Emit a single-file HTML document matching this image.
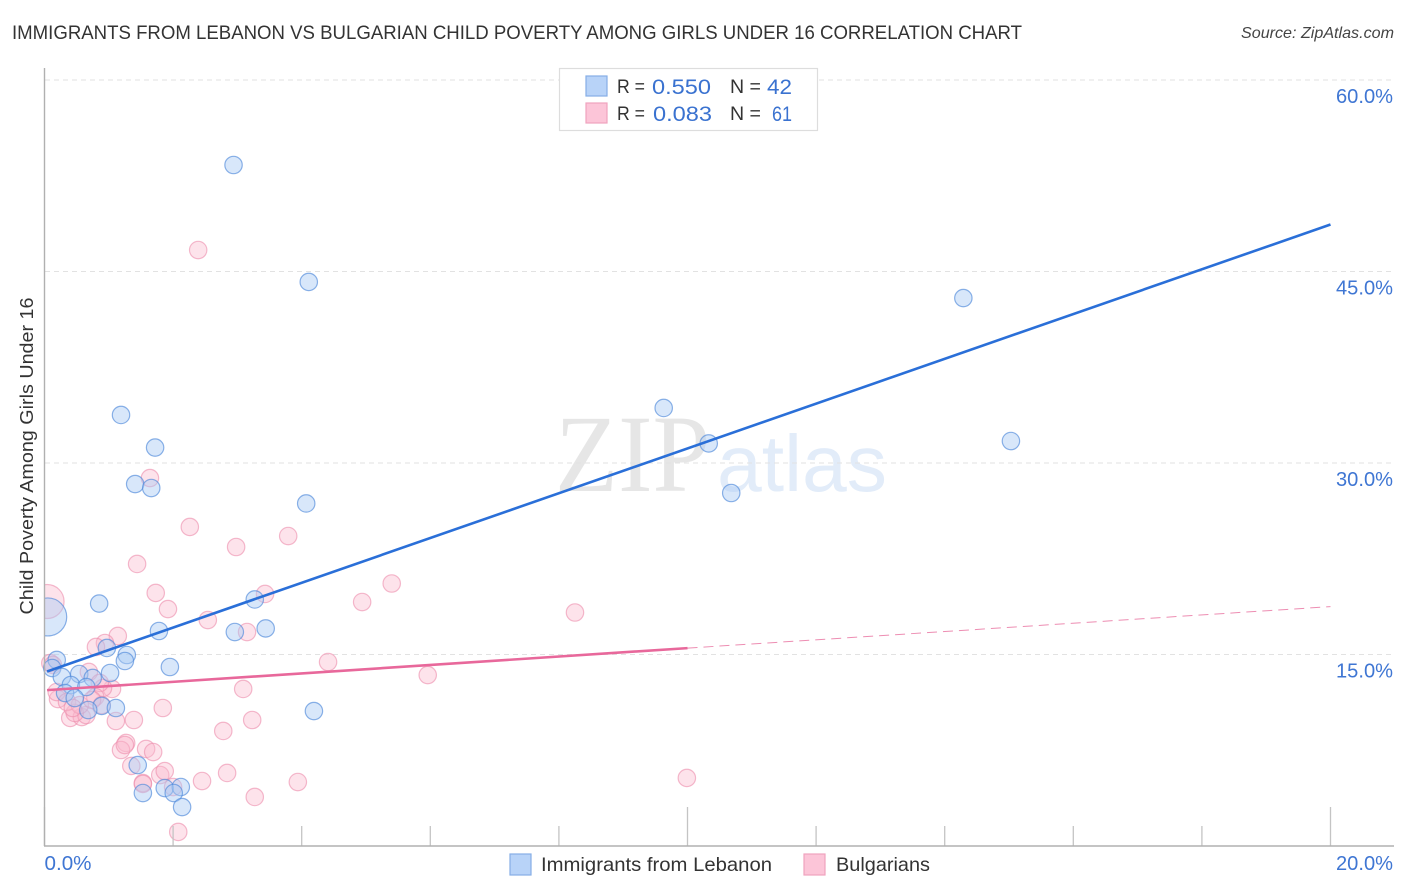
<!DOCTYPE html>
<html lang="en">
<head>
<meta charset="utf-8">
<title>Immigrants from Lebanon vs Bulgarian Child Poverty Correlation Chart</title>
<style>
html,body{margin:0;padding:0;background:#fff;}
svg{display:block;font-family:"Liberation Sans",sans-serif;}
</style>
</head>
<body>
<svg id="chart" width="1406" height="892" viewBox="0 0 1406 892" xmlns="http://www.w3.org/2000/svg">
  <text x="12" y="39" font-size="19" fill="#333" textLength="1010" lengthAdjust="spacingAndGlyphs">IMMIGRANTS FROM LEBANON VS BULGARIAN CHILD POVERTY AMONG GIRLS UNDER 16 CORRELATION CHART</text>
  <text x="1394" y="38" font-size="16" font-style="italic" fill="#444" text-anchor="end" textLength="153" lengthAdjust="spacingAndGlyphs">Source: ZipAtlas.com</text>
  <g id="watermark">
    <text x="555" y="491" font-family="'Liberation Serif',serif" font-size="110" fill="#e6e6e6" textLength="155" lengthAdjust="spacingAndGlyphs">ZIP</text>
    <text x="717" y="491" font-size="80" fill="#e2ecf9" textLength="170" lengthAdjust="spacingAndGlyphs">atlas</text>
  </g>
  <g id="grid"></g>
  <g id="points"></g>
  <rect x="0" y="570" width="44.5" height="80" fill="#fff"></rect>
  <g id="axes"></g>
  <g id="trends"></g>
  <g id="labels"></g>
  <text transform="translate(33,456) rotate(-90)" font-size="18.5" fill="#333" text-anchor="middle" textLength="317" lengthAdjust="spacingAndGlyphs">Child Poverty Among Girls Under 16</text>

  <g>
    <rect x="559.5" y="68.5" width="258" height="62" fill="#fff" stroke="#ddd" stroke-width="1.2"></rect>
    <rect x="586" y="76" width="21" height="20" fill="#b8d3f8" stroke="#86aee6" stroke-width="1.2"></rect>
    <rect x="586" y="103" width="21" height="20" fill="#fcc5d8" stroke="#f0a3bf" stroke-width="1.2"></rect>
    <g font-size="19" fill="#333">
      <text x="617" y="93" textLength="28" lengthAdjust="spacingAndGlyphs">R =</text>
      <text x="730" y="93" textLength="31" lengthAdjust="spacingAndGlyphs">N =</text>
      <text x="617" y="120" textLength="28" lengthAdjust="spacingAndGlyphs">R =</text>
      <text x="730" y="120" textLength="31" lengthAdjust="spacingAndGlyphs">N =</text>
    </g>
    <g font-size="21" fill="#3a72d0">
      <text x="652" y="94" textLength="59" lengthAdjust="spacingAndGlyphs">0.550</text>
      <text x="767" y="94" textLength="25" lengthAdjust="spacingAndGlyphs">42</text>
      <text x="653" y="121" textLength="59" lengthAdjust="spacingAndGlyphs">0.083</text>
      <text x="772" y="121" textLength="20" lengthAdjust="spacingAndGlyphs">61</text>
    </g>
  </g>

  <g>
    <rect x="510" y="854" width="21" height="21" fill="#b8d3f8" stroke="#86aee6" stroke-width="1.2"></rect>
    <text x="541" y="871" font-size="19.5" fill="#333" textLength="231" lengthAdjust="spacingAndGlyphs">Immigrants from Lebanon</text>
    <rect x="804" y="854" width="21" height="21" fill="#fcc5d8" stroke="#f0a3bf" stroke-width="1.2"></rect>
    <text x="836" y="871" font-size="19.5" fill="#333" textLength="94" lengthAdjust="spacingAndGlyphs">Bulgarians</text>
  </g>
</svg>
<script>
const yTicks = [15, 30, 45, 60];
const yTickLabels = ["15.0%", "30.0%", "45.0%", "60.0%"];
const xTicks = [0, 2, 4, 6, 8, 10, 12, 14, 16, 18, 20];
const xMajorTicks = [0, 10, 20];
const xEndTicks = [0, 20];
const xTickLabels = ["0.0%", "20.0%"];

const lebanonX = [2.94,4.11,14.29,9.63,1.19,1.72,10.33,15.03,1.41,1.66,10.68,4.07,0.85,3.27,0.05,1.78,2.96,3.44,0.97,1.28,1.25,1.95,0.19,0.12,0.27,0.54,1.02,0.75,0.41,0.65,0.32,0.47,0.89,1.11,0.68,4.19,1.45,1.53,1.87,2.12,2.01,2.14];
const lebanonY = [53.34,44.18,42.92,34.31,33.76,31.21,31.53,31.72,28.35,28.04,27.65,26.83,18.99,19.31,17.94,16.84,16.76,17.04,15.51,14.96,14.49,14.02,14.57,13.94,13.24,13.47,13.55,13.16,12.61,12.45,11.98,11.59,10.97,10.81,10.65,10.57,6.34,4.15,4.54,4.62,4.15,3.05];
const lebanonWeight = [1,1,1,1,1,1,1,1,1,1,1,1,1,1,4.77,1,1,1,1,1,1,1,1,1,1,1,1,1,1,1,1,1,1,1,1,1,1,1,1,1,1,1];

const bulgarianX = [1.44,1.73,1.92,3.43,2.54,3.15,1.14,0.94,0.80,4.41,0.09,0.13,0.69,3.09,1.05,0.91,1.84,1.39,1.11,3.23,2.78,0.40,0.58,0.65,0.47,0.21,0.19,0.35,0.86,0.79,0.55,0.89,1.27,1.19,1.25,1.58,1.69,1.35,1.80,1.87,1.53,1.53,2.45,2.84,3.94,3.27,2.00,2.08,2.39,1.64,2.26,3.79,2.98,5.40,4.94,8.25,5.96,9.99,0.04,0.44,0.74];
const bulgarianY = [22.09,19.82,18.56,19.74,17.70,16.76,16.45,15.90,15.59,14.41,14.33,14.18,13.63,12.30,12.30,12.38,10.81,9.87,9.79,9.87,9.01,10.03,10.10,10.26,10.42,11.51,12.06,11.28,12.77,11.67,11.04,11.04,8.07,7.52,7.91,7.60,7.36,6.27,5.56,5.87,4.93,4.86,5.09,5.72,5.01,3.84,4.62,1.10,46.68,28.82,24.99,24.28,23.42,20.56,19.11,18.29,13.39,5.33,19.15,10.81,11.44];
const bulgarianWeight = [1,1,1,1,1,1,1,1,1,1,1,1,1,1,1,1,1,1,1,1,1,1,1,1,1,1,1,1,1,1,1,1,1,1,1,1,1,1,1,1,1,1,1,1,1,1,1,1,1,1,1,1,1,1,1,1,1,1,3.82,1,1];

const lebanonTrendX = [0.04, 20];
const lebanonTrendY = [13.67, 48.68];
const bulgarianTrendX = [0.04, 10];
const bulgarianTrendY = [12.21, 15.5];
const bulgarianDashX = [10, 20];
const bulgarianDashY = [15.5, 18.75];

const SVGNS = "http://www.w3.org/2000/svg";
function xScale(v) { return 44.5 + v * 64.3; }
function yScale(v) { return 846 - v * 12.767; }
function radius(w) { return 8.7 * Math.sqrt(w); }
function make(parent, tag, attrs) {
  const el = document.createElementNS(SVGNS, tag);
  for (const k in attrs) el.setAttribute(k, attrs[k]);
  parent.appendChild(el);
  return el;
}

const grid = document.getElementById("grid");
const axes = document.getElementById("axes");
const labels = document.getElementById("labels");
const points = document.getElementById("points");
const trends = document.getElementById("trends");

yTicks.forEach(function (t, i) {
  const line = make(grid, "line", {x1: 45, x2: 1394, y1: yScale(t), y2: yScale(t), stroke: "#e2e2e2", "stroke-width": 1, "stroke-dasharray": "5 4"});
  
  
  const label = make(labels, "text", {x: 1393, y: yScale(t) + 23, "font-size": 20, fill: "#3f76d3", "text-anchor": "end", textLength: 57, lengthAdjust: "spacingAndGlyphs"});
  label.textContent = yTickLabels[i];
  
  
});

xTicks.forEach(function (t) {
  const major = xMajorTicks.indexOf(t) >= 0;
  const tick = make(axes, "line", {x1: xScale(t), x2: xScale(t), y1: major ? 807 : 826, y2: 846, stroke: "#c4c4c4", "stroke-width": 1.3});
  
  
});

const xAxis = make(axes, "line", {x1: 44, x2: 1394, y1: 846, y2: 846, stroke: "#b0b0b0", "stroke-width": 1.4});


const yAxis = make(axes, "line", {x1: 44.5, x2: 44.5, y1: 68, y2: 846, stroke: "#b0b0b0", "stroke-width": 1.4});



xEndTicks.forEach(function (t, i) {
  const anchor = i === 0 ? "start" : "end";
  const px = i === 0 ? xScale(t) : 1393;
  const width = i === 0 ? 47 : 57;
  const label = make(labels, "text", {x: px, y: 870, "font-size": 20, fill: "#3f76d3", "text-anchor": anchor, textLength: width, lengthAdjust: "spacingAndGlyphs"});
  label.textContent = xTickLabels[i];
  
  
});

bulgarianX.forEach(function (v, i) {
  const c = make(points, "circle", {cx: xScale(v), cy: yScale(bulgarianY[i]), r: radius(bulgarianWeight[i]), fill: "#fbb9ce", "fill-opacity": 0.4, stroke: "#ec8cab", "stroke-opacity": 0.6, "stroke-width": 1.2});
  
  
});
lebanonX.forEach(function (v, i) {
  const c = make(points, "circle", {cx: xScale(v), cy: yScale(lebanonY[i]), r: radius(lebanonWeight[i]), fill: "#a9caf5", "fill-opacity": 0.45, stroke: "#4f88da", "stroke-opacity": 0.65, "stroke-width": 1.2});
  
  
});

const bulgarianDash = make(trends, "line", {x1: xScale(bulgarianDashX[0]), y1: yScale(bulgarianDashY[0]), x2: xScale(bulgarianDashX[1]), y2: yScale(bulgarianDashY[1]), stroke: "#e8709f", "stroke-width": 1, "stroke-dasharray": "10 6", "stroke-opacity": 0.8});


const bulgarianTrend = make(trends, "line", {x1: xScale(bulgarianTrendX[0]), y1: yScale(bulgarianTrendY[0]), x2: xScale(bulgarianTrendX[1]), y2: yScale(bulgarianTrendY[1]), stroke: "#e8689b", "stroke-width": 2.6});


const lebanonTrend = make(trends, "line", {x1: xScale(lebanonTrendX[0]), y1: yScale(lebanonTrendY[0]), x2: xScale(lebanonTrendX[1]), y2: yScale(lebanonTrendY[1]), stroke: "#2a6fd8", "stroke-width": 2.6});


</script>
</body>
</html>
